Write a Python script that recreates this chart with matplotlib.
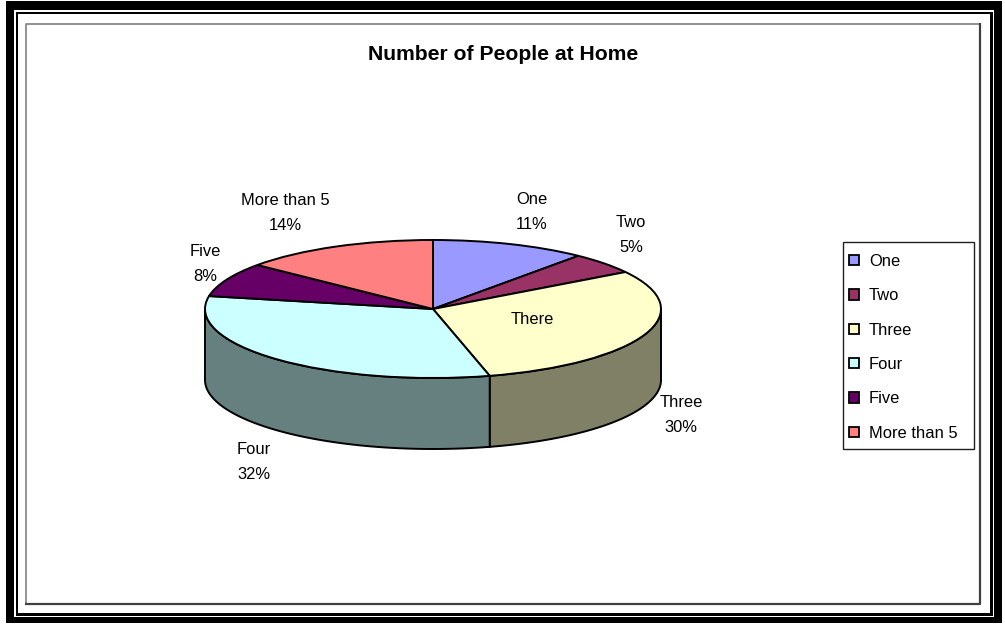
import numpy as np
import matplotlib
matplotlib.use("Agg")
import matplotlib.pyplot as plt
from matplotlib.patches import Rectangle

plt.rcParams['font.family'] = ['Liberation Sans', 'DejaVu Sans']

title = "Number of People at Home"
categories = ["One", "Two", "Three", "Four", "Five", "More than 5"]
shares = [11, 5, 30, 32, 8, 14]
top_colors = ["#9999FF", "#993366", "#FFFFCC", "#CCFFFF", "#660066", "#FF8080"]
note = "There"

W, H = 1005, 624
fig = plt.figure(figsize=(W / 100, H / 100), dpi=100, facecolor="white")

# ---- pie axes: ellipse centre (433,309), rx 228, ry 69 in pixels
cx, cy, rx, ry, depth_px = 433, 309, 228, 69, 71
pie_ax = fig.add_axes([0, 0, 1, 1], zorder=1)
pie_ax.patch.set_visible(False)
edge = dict(edgecolor="black", linewidth=1.4)
wedges, _ = pie_ax.pie(shares, startangle=90, counterclock=False, colors=top_colors,
                       wedgeprops=edge)
for w in wedges:
    w.set_zorder(3)
pie_ax.set_aspect("auto")
pie_ax.set_xlim(-cx / rx, (W - cx) / rx)
pie_ax.set_ylim(-(H - cy) / ry, cy / ry)
pie_ax.axis("off")

# ---- side walls: darkened slice colours on the front half of the rim
depth = depth_px / ry
cum = np.cumsum([0] + shares) / sum(shares)
for i, col in enumerate(top_colors):
    a0 = 90 - 360 * cum[i]
    a1 = 90 - 360 * cum[i + 1]
    lo, hi = max(a1, -180), min(a0, 0)
    if hi > lo:
        t = np.radians(np.linspace(hi, lo, 60))
        xs = np.cos(t)
        ys = np.sin(t)
        rgb = np.array(matplotlib.colors.to_rgb(col)) * 0.5
        pie_ax.fill(np.r_[xs, xs[::-1]], np.r_[ys, ys[::-1] - depth],
                    facecolor=rgb, edgecolor="black", linewidth=1.4, zorder=2)

# ---- pixel overlay for frame
ov = fig.add_axes([0, 0, 1, 1], zorder=0.5)
ov.patch.set_visible(False)
ov.set_xlim(0, W)
ov.set_ylim(H, 0)
ov.axis("off")

ov.add_patch(Rectangle((6, 1), 996, 622, facecolor="black", edgecolor="none", zorder=0.1))
ov.add_patch(Rectangle((14, 10), 980, 607, facecolor="white", edgecolor="none", zorder=0.2))
ov.add_patch(Rectangle((16, 12), 977, 604, facecolor="black", edgecolor="none", zorder=0.3))
ov.add_patch(Rectangle((18, 14), 972, 599, facecolor="white", edgecolor="none", zorder=0.4))

ov.plot([25.5, 25.5, 979.5], [604, 23.5, 23.5], color="#808080", lw=1.2, zorder=1, solid_capstyle="butt")
ov.plot([25, 980, 980], [604, 604, 23], color="#404040", lw=1.6, zorder=1, solid_capstyle="butt")

# ---- text on top
tx = fig.add_axes([0, 0, 1, 1], zorder=3)
tx.patch.set_visible(False)
tx.set_xlim(0, W)
tx.set_ylim(H, 0)
tx.axis("off")

tx.text(503, 55, title, ha="center", va="center", fontsize=15.2, fontweight="bold", color="black")

label_pos = [(532, 212), (631, 235), (681, 415), (254, 462), (205, 264), (285, 213)]
for cat, val, (x, y) in zip(categories, shares, label_pos):
    tx.text(x, y, f"{cat}\n{val}%", ha="center", va="center", fontsize=11.9,
            linespacing=1.83, color="black")
tx.text(532, 320, note, ha="center", va="center", fontsize=11.9, color="black")

# legend
tx.add_patch(Rectangle((843, 242), 131, 207, facecolor="white", edgecolor="#202020", linewidth=1.0))
leg = tx.legend(wedges, categories, loc="upper left",
                bbox_to_anchor=(849 / W, 1 - 254 / H), bbox_transform=fig.transFigure,
                frameon=False, fontsize=11.9, borderpad=0, borderaxespad=0,
                handlelength=0.6, handleheight=0.6, handletextpad=0.6, labelspacing=1.17)
for h in leg.legend_handles:
    h.set_linewidth(1.3)

fig.savefig("out.png", dpi=100, facecolor="white")
